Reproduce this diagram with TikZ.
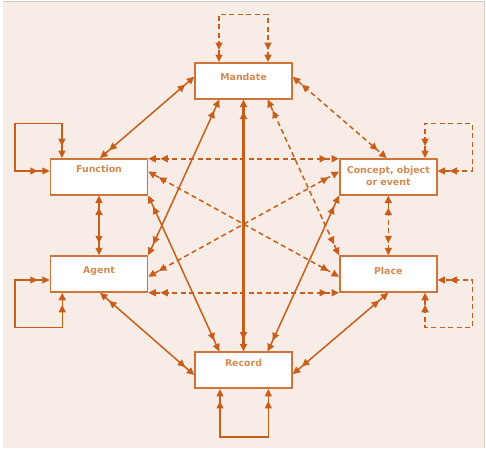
\documentclass[tikz,border=0pt]{standalone}
\usepackage{fontspec}
\setmainfont{DejaVu Sans}
\usetikzlibrary{arrows.meta,calc}
\definecolor{bg}{RGB}{247,237,230}
\definecolor{ln}{RGB}{200,94,26}
\definecolor{bx}{RGB}{208,116,58}
\definecolor{tx}{RGB}{214,136,80}
\definecolor{fr}{RGB}{205,205,205}
\tikzset{
  box/.style={draw=bx,fill=white,line width=1.5pt,minimum width=97pt,minimum height=36pt,inner sep=0pt},
  lbl/.style={text=tx,font=\bfseries\fontsize{9.4}{12.3}\selectfont,align=center,inner sep=0pt},
  tips/.style={arrows={Triangle[length=7.5pt,width=7pt]Triangle[length=7.5pt,width=7pt,sep=4.5pt]-Triangle[length=7.5pt,width=7pt,sep=4.5pt]Triangle[length=7.5pt,width=7pt]}},
  conn/.style={draw=ln,line width=1.5pt,tips},
  dconn/.style={conn,dash pattern=on 5pt off 3.5pt},
  thick conn/.style={conn,line width=2.8pt}
}
\begin{document}
\begin{tikzpicture}[x=1pt,y=-1pt]
\useasboundingbox (0,0) rectangle (486,448);
\fill[white] (0,0) rectangle (486,448);
\fill[bg] (3,2) rectangle (484.5,448);
\draw[fr,line width=1pt] (3,1.5) -- (484.5,1.5) -- (484.5,448);
% boxes
\node[box] (M) at (243.5,80.8) {};
\node[box] (F) at (99,176.8) {};
\node[box] (C) at (388.3,176.8) {};
\node[box] (A) at (99,274) {};
\node[box] (P) at (388.3,274) {};
\node[box] (R) at (243.5,370.2) {};
% labels
\node[lbl] (Mt) at (243.5,77.3) {Mandate};
\node[lbl] (Ft) at (99,169.3) {Function};
\node[lbl] (Ct) at (388.3,176.2) {Concept, object\\or event};
\node[lbl] (At) at (99,270.7) {Agent};
\node[lbl] (Pt) at (388.3,270.7) {Place};
\node[lbl] (Rt) at (243.5,362.7) {Record};
% loop corners
\coordinate (fl) at (15,123.3);
\coordinate (cl) at (472.3,123.3);
\coordinate (al) at (15,327.7);
\coordinate (pl) at (472.3,327.7);
% self loops
\draw[dconn] ($(M.north)+(-24.5,0)$) -- ++(0,-47.8) -| ($(M.north)+(24.5,0)$);
\draw[conn] ($(F.north west)+(12.2,0)$) |- (fl) |- ($(F.west)+(0,-5.8)$);
\draw[dconn] ($(C.north east)+(-12.5,0)$) |- (cl) |- ($(C.east)+(0,-5.8)$);
\draw[conn] ($(A.south west)+(12.5,0)$) |- (al) |- ($(A.west)+(0,6)$);
\draw[dconn] ($(P.south east)+(-12.5,0)$) |- (pl) |- ($(P.east)+(0,6)$);
\draw[conn] ($(R.south)+(-23.5,0)$) -- ++(0,47.8) -| ($(R.south)+(24.8,0)$);
% edges
\draw[conn] ($(M.west)+(0,-4)$) -- ($(F.north)+(1,0)$);
\draw[dconn] ($(M.east)+(0,-4)$) -- ($(C.north)+(-1.6,0)$);
\draw[conn] ($(M.south)+(-24.2,0)$) -- (A.north east);
\draw[dconn] ($(M.south)+(24.2,0)$) -- (P.north west);
\draw[thick conn] (M.south) -- (R.north);
\draw[conn] (F.south east) -- ($(R.north)+(-24.2,0)$);
\draw[conn] (C.south west) -- ($(R.north)+(24.2,0)$);
\draw[conn] ($(A.south)+(1,0)$) -- ($(R.west)+(0,4.8)$);
\draw[conn] (P.south) -- ($(R.east)+(0,4)$);
\draw[dconn] ($(F.north east)+(0,0.7)$) -- ($(C.north west)+(0,0.7)$);
\draw[dconn] ($(F.north east)+(0,13.5)$) -- ($(P.west)+(0,2.7)$);
\draw[dconn] ($(A.east)+(0,2.7)$) -- ($(C.north west)+(0,13.5)$);
\draw[dconn] (A.south east) -- (P.south west);
\draw[conn] (F.south) -- (A.north);
\draw[dconn] (C.south) -- (P.north);
\end{tikzpicture}
\end{document}
